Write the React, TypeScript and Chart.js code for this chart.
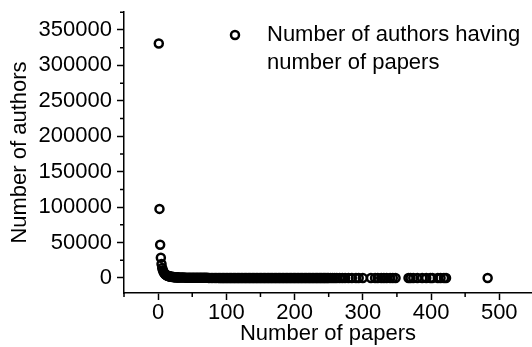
import React, { useEffect, useRef } from "react";
import { Chart, registerables } from "chart.js";

Chart.register(...registerables);

// Number of papers per author (x) and how many authors have exactly that many (y)
const papers: number[] = [
  1, 2, 3, 4, 5, 6, 7, 8, 9, 10, 11, 12, 13, 14, 15, 16, 17, 18, 19, 20,
  21, 22, 23, 24, 25, 26, 27, 28, 29, 30,
  32, 34, 36, 38, 40, 42, 44, 46, 48, 50, 52, 54, 56, 58, 60, 62, 64, 66, 68, 70,
  72, 74, 76, 78, 80, 82, 84, 86, 88, 90, 92, 94, 96, 98, 100, 102, 104, 106, 108, 110,
  112, 114, 116, 118, 120, 122, 124, 126, 128, 130, 132, 134, 136, 138, 140, 142, 144, 146, 148, 150,
  152, 154, 156, 158, 160, 162, 164, 166, 168, 170, 172, 174, 176, 178, 180, 182, 184, 186, 188, 190,
  192, 194, 196, 198, 200, 202, 204, 206, 208, 210, 212, 214, 216, 218, 220, 222, 224, 226, 228, 230,
  232, 234, 236, 238, 240, 242, 244, 246, 248, 250,
  253, 256, 259, 262, 266, 270, 274, 279,
  284, 290, 294, 300, 312, 318, 322, 327, 331, 335, 340, 344, 348,
  367, 370, 374, 380, 387, 393, 399, 402, 410, 414, 419, 422, 483,
];

const authors: number[] = [
  331000, 97500, 46800, 28500, 19800, 14200, 10800, 8500, 6900, 5700, 4800, 4100, 3550, 3100, 2750, 2450, 2200, 1980, 1800, 1640,
  1500, 1380, 1270, 1170, 1090, 1010, 940, 880, 820, 770,
  690, 620, 560, 505, 462, 420, 388, 355, 330, 305, 284, 262, 246, 229, 214, 201, 188, 177, 168, 157,
  149, 141, 133, 127, 120, 114, 109, 103, 99, 94, 90, 86, 82, 79, 75, 72, 69, 66, 64, 61,
  58, 57, 54, 52, 50, 48, 47, 45, 43, 42, 40, 39, 37, 36, 35, 33, 33, 31, 30, 29,
  28, 27, 27, 25, 25, 24, 23, 22, 22, 21, 20, 19, 19, 18, 18, 17, 16, 16, 15, 15,
  14, 14, 13, 13, 12, 12, 11, 11, 11, 10, 10, 9, 9, 9, 8, 8, 8, 7, 7, 7,
  6, 6, 6, 5, 5, 5, 5, 4, 4, 4,
  4, 3, 3, 3, 2, 3, 2, 2,
  2, 1, 2, 1, 1, 2, 1, 1, 1, 2, 1, 1, 1,
  1, 1, 1, 1, 1, 1, 1, 1, 1, 1, 1, 1, 1,
];

const xMajorTicks: number[] = [0, 100, 200, 300, 400, 500];
const xMinorTicks: number[] = [-50, 50, 150, 250, 350, 450];
const yMajorTicks: number[] = [0, 50000, 100000, 150000, 200000, 250000, 300000, 350000];
const yMinorTicks: number[] = [25000, 75000, 125000, 175000, 225000, 275000, 325000, 375000];

const seriesLabel: string[] = ["Number of authors having", "number of papers"];
const xTitle = "Number of papers";
const yTitle = "Number of authors";

const FONT = "'Liberation Sans', Arial, sans-serif";

// Short minor tick marks on both axes
const minorTicksPlugin = {
  id: "minorTicks",
  afterDraw(chart: any) {
    const { ctx, scales, chartArea } = chart;
    ctx.save();
    ctx.strokeStyle = "#000";
    ctx.lineWidth = 1.5;
    ctx.beginPath();
    for (const v of xMinorTicks) {
      const px = scales.x.getPixelForValue(v);
      if (px < chartArea.left - 1 || px > chartArea.right + 1) continue;
      ctx.moveTo(px, chartArea.bottom);
      ctx.lineTo(px, chartArea.bottom + 4);
    }
    for (const v of yMinorTicks) {
      const py = scales.y.getPixelForValue(v);
      if (py < chartArea.top - 1 || py > chartArea.bottom + 1) continue;
      ctx.moveTo(chartArea.left, py);
      ctx.lineTo(chartArea.left - 4, py);
    }
    ctx.stroke();
    ctx.restore();
  },
};

// Two-line legend entry with an open circle marker
const legendPlugin = {
  id: "twoLineLegend",
  afterDraw(chart: any) {
    const { ctx } = chart;
    ctx.save();
    ctx.strokeStyle = "#000";
    ctx.lineWidth = 2.5;
    ctx.beginPath();
    ctx.arc(235, 35, 4, 0, Math.PI * 2);
    ctx.stroke();
    ctx.fillStyle = "#000";
    ctx.font = `22px ${FONT}`;
    ctx.textBaseline = "middle";
    ctx.textAlign = "left";
    seriesLabel.forEach((line, i) => ctx.fillText(line, 267, 35 + i * 28));
    ctx.restore();
  },
};

export default function App() {
  const canvasRef = useRef<HTMLCanvasElement | null>(null);

  useEffect(() => {
    if (!canvasRef.current) return;
    const chart = new Chart(canvasRef.current, {
      type: "scatter",
      data: {
        datasets: [
          {
            label: seriesLabel.join(" "),
            data: papers.map((p, i) => ({ x: p, y: authors[i] })),
            pointStyle: "circle",
            pointRadius: 4,
            pointBorderWidth: 2.5,
            pointBorderColor: "#000",
            pointBackgroundColor: "rgba(0,0,0,0)",
            clip: false,
          },
        ],
      },
      options: {
        animation: false,
        responsive: true,
        maintainAspectRatio: false,
        layout: { autoPadding: false, padding: { top: 12, right: 0, bottom: 0, left: 0 } },
        plugins: { legend: { display: false }, tooltip: { enabled: false } },
        scales: {
          x: {
            type: "linear",
            min: -50,
            max: 548,
            afterBuildTicks: (s: any) => {
              s.ticks = xMajorTicks.map((v) => ({ value: v }));
            },
            afterFit: (s: any) => {
              s.height = 54;
              s.paddingLeft = 0;
              s.paddingRight = 0;
            },
            grid: { drawOnChartArea: false, tickLength: 7, tickColor: "#000", tickWidth: 1.5 },
            border: { display: true, color: "#000", width: 1.5 },
            ticks: {
              color: "#000",
              font: { family: FONT, size: 22 },
              padding: 0,
              maxRotation: 0,
              callback: (v: any) => String(v),
            },
            title: {
              display: true,
              text: xTitle,
              color: "#000",
              font: { family: FONT, size: 22 },
              padding: { top: -5, bottom: 0 },
            },
          },
          y: {
            type: "linear",
            min: -21200,
            max: 375400,
            afterBuildTicks: (s: any) => {
              s.ticks = yMajorTicks.map((v) => ({ value: v }));
            },
            afterFit: (s: any) => {
              s.width = 124;
              s.paddingTop = 0;
              s.paddingBottom = 0;
            },
            grid: { drawOnChartArea: false, tickLength: 7, tickColor: "#000", tickWidth: 1.5 },
            border: { display: true, color: "#000", width: 1.5 },
            ticks: {
              color: "#000",
              font: { family: FONT, size: 22 },
              padding: 5,
              callback: (v: any) => String(v),
            },
            title: {
              display: true,
              text: yTitle,
              color: "#000",
              font: { family: FONT, size: 22 },
              padding: { top: 7, bottom: 0 },
            },
          },
        },
      },
      plugins: [minorTicksPlugin, legendPlugin],
    });
    return () => chart.destroy();
  }, []);

  return (
    <div style={{ position: "fixed", left: 0, top: 0, width: 532, height: 347, background: "#fff" }}>
      <canvas ref={canvasRef} />
    </div>
  );
}
